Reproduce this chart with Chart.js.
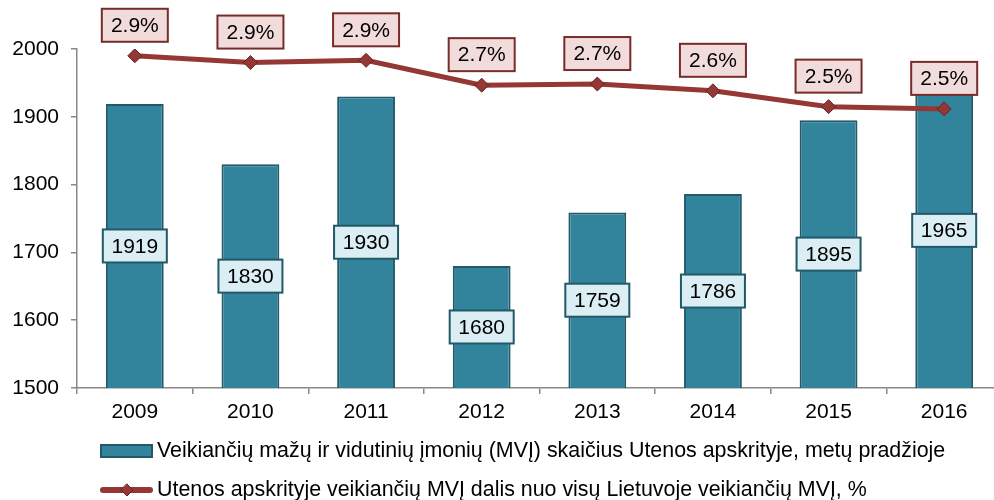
<!DOCTYPE html>
<html>
<head>
<meta charset="utf-8">
<script src="https://cdn.jsdelivr.net/npm/chart.js@4"></script>
<style>
  html, body { margin: 0; padding: 0; overflow: hidden; background: #fff; }
</style>
</head>
<body>
<canvas id="grafikas" width="1010" height="500"></canvas>
<script>
const metai = ['2009', '2010', '2011', '2012', '2013', '2014', '2015', '2016']
const imoniuSkaicius = [1919, 1830, 1930, 1680, 1759, 1786, 1895, 1965]
const dalisProc = [2.94, 2.88, 2.90, 2.68, 2.69, 2.63, 2.49, 2.47]
const yTikai = [1500, 1600, 1700, 1800, 1900, 2000]

const pavBar = 'Veikiančių mažų ir vidutinių įmonių (MVĮ) skaičius Utenos apskrityje, metų pradžioje'
const pavLine = 'Utenos apskrityje veikiančių MVĮ dalis nuo visų Lietuvoje veikiančių MVĮ, %'

const SRIFTAS = '21px "Liberation Sans", Arial, sans-serif'

function dezute(ctx, x, y, w, h, fonas, remas, tekstas) {
    ctx.fillStyle = fonas
    ctx.strokeStyle = remas
    ctx.lineWidth = 2
    ctx.fillRect(x - w / 2, y - h / 2, w, h)
    ctx.strokeRect(x - w / 2, y - h / 2, w, h)
    ctx.fillStyle = '#000'
    ctx.font = SRIFTAS
    ctx.textAlign = 'center'
    ctx.textBaseline = 'middle'
    ctx.fillText(tekstas, x, y + 1)
}

// reiksmiu etiketes
const etiketes = {
    id: 'etiketes',
    afterDatasetsDraw(chart) {
        const ctx = chart.ctx
        const sx = chart.scales.x
        const sy = chart.scales.y
        const sy2 = chart.scales.y2
        ctx.save()
        imoniuSkaicius.forEach((v, i) => {
            const x = sx.getPixelForValue(i)
            const cy = (sy.getPixelForValue(v) + sy.getPixelForValue(sy.min)) / 2
            dezute(ctx, x, cy, 64, 33, '#dbeef4', '#215968', String(v))
        })
        dalisProc.forEach((v, i) => {
            const x = sx.getPixelForValue(i)
            const y = sy2.getPixelForValue(v)
            dezute(ctx, x, y - 30.5, 66, 33, '#f2dcdb', '#772c2a', v.toFixed(1) + '%')
        })
        ctx.restore()
    }
}

// legenda
const legenda = {
    id: 'legenda',
    afterDraw(chart) {
        const ctx = chart.ctx
        ctx.save()
        ctx.fillStyle = '#31849b'
        ctx.strokeStyle = '#215968'
        ctx.lineWidth = 2
        ctx.fillRect(101, 445, 51, 12)
        ctx.strokeRect(101, 445, 51, 12)

        ctx.strokeStyle = '#953735'
        ctx.lineWidth = 6
        ctx.lineCap = 'round'
        ctx.beginPath()
        ctx.moveTo(103, 490)
        ctx.lineTo(150, 490)
        ctx.stroke()
        ctx.fillStyle = '#953735'
        ctx.strokeStyle = '#632523'
        ctx.lineWidth = 1
        ctx.beginPath()
        ctx.moveTo(127, 484)
        ctx.lineTo(133, 490)
        ctx.lineTo(127, 496)
        ctx.lineTo(121, 490)
        ctx.closePath()
        ctx.fill()
        ctx.stroke()

        ctx.fillStyle = '#000'
        ctx.font = '21.4px "Liberation Sans", Arial, sans-serif'
        ctx.textAlign = 'left'
        ctx.textBaseline = 'middle'
        ctx.fillText(pavBar, 157, 451)
        ctx.fillText(pavLine, 157, 490)
        ctx.restore()
    }
}

const grafikas = new Chart(document.getElementById('grafikas'), {
    data: {
        labels: metai,
        datasets: [{
            type: 'line',
            label: pavLine,
            data: dalisProc,
            yAxisID: 'y2',
            order: 0,
            borderColor: '#953735',
            borderWidth: 5,
            pointStyle: 'rectRot',
            pointRadius: 7,
            pointBackgroundColor: '#953735',
            pointBorderColor: '#632523',
            pointBorderWidth: 1,
            tension: 0
        }, {
            type: 'bar',
            label: pavBar,
            data: imoniuSkaicius,
            yAxisID: 'y',
            order: 1,
            backgroundColor: '#31849b',
            borderColor: '#215968',
            borderWidth: 2,
            categoryPercentage: 1,
            barPercentage: 0.5
        }]
    },
    options: {
        responsive: false,
        animation: false,
        layout: { padding: { top: 49, right: 5, bottom: 70, left: 0 } },
        plugins: {
            legend: { display: false },
            tooltip: { enabled: false }
        },
        scales: {
            x: {
                offset: true,
                grid: { offset: true, drawOnChartArea: false, drawTicks: true, tickLength: 6, color: '#888', lineWidth: 1.5 },
                border: { color: '#888', width: 1.5 },
                ticks: { color: '#000', font: { family: '"Liberation Sans", Arial, sans-serif', size: 21 }, padding: 6, maxRotation: 0 },
                afterFit: s => { s.height = 42 }
            },
            y: {
                position: 'left',
                min: 1500,
                max: 2000,
                afterBuildTicks: s => { s.ticks = yTikai.map(v => ({ value: v })) },
                grid: { drawOnChartArea: false, drawTicks: true, tickLength: 6, color: '#888', lineWidth: 1.5 },
                border: { color: '#888', width: 1.5 },
                ticks: {
                    color: '#000',
                    font: { family: '"Liberation Sans", Arial, sans-serif', size: 21 },
                    padding: 12,
                    callback: v => String(v)
                },
                afterFit: s => { s.width = 77 }
            },
            y2: {
                display: false,
                min: 0,
                max: 3
            }
        }
    },
    plugins: [etiketes, legenda]
})
</script>
</body>
</html>
